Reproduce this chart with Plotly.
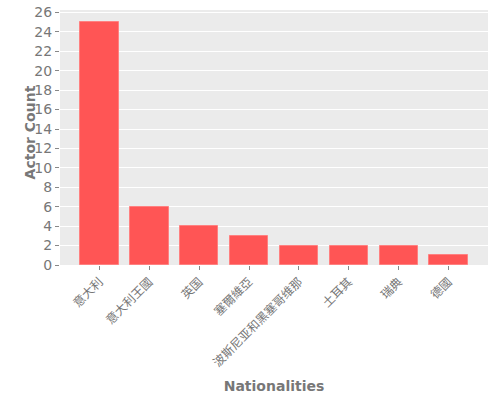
import plotly.graph_objects as go

# nationalities and how many actors each
nationalities = ["意大利", "意大利王國", "英国", "塞爾維亞", "波斯尼亚和黑塞哥维那", "土耳其", "瑞典", "德國"]
actor_counts = [25, 6, 4, 3, 2, 2, 2, 1]

y_ticks = list(range(0, 27, 2))

fig = go.Figure()
fig.add_trace(go.Bar(
    x=list(range(len(nationalities))),
    y=actor_counts,
    width=0.77,
    marker=dict(color="#ff5555", line=dict(color="#ff8080", width=1)),
))

fig.update_layout(
    width=500, height=400,
    margin=dict(l=60, r=12, t=10, b=135),
    paper_bgcolor="white",
    plot_bgcolor="#ebebeb",
    font=dict(family="DejaVu Sans, Noto Sans CJK SC", color="#777777", size=12),
    showlegend=False,
    bargap=0,
)
fig.update_xaxes(
    range=[-0.79, 7.79],
    tickmode="array",
    tickvals=list(range(len(nationalities))),
    ticktext=nationalities,
    tickangle=-45,
    ticks="outside", ticklen=4, tickcolor="#888888",
    showgrid=False, zeroline=False,
    tickfont=dict(size=12, color="#777777"),
    title=dict(text="<b>Nationalities</b>", font=dict(size=14, color="#777777"), standoff=12),
)
fig.update_yaxes(
    automargin=False,
    range=[0, 26.25],
    tickvals=y_ticks,
    ticks="outside", ticklen=4, tickcolor="#888888",
    gridcolor="white", gridwidth=1, zeroline=False,
    tickfont=dict(size=14, color="#777777"),
)

# y title as an annotation so it sits where the reference has it
fig.add_annotation(
    text="<b>Actor Count</b>", textangle=-90,
    xref="paper", yref="paper", x=-0.0935, y=0.52,
    showarrow=False, font=dict(size=14, color="#777777"),
)

# drop the default body margin so the figure sits at the page corner
fig.write_html("out.html", config={"displayModeBar": False},
               post_script="document.body.style.margin='0';")
